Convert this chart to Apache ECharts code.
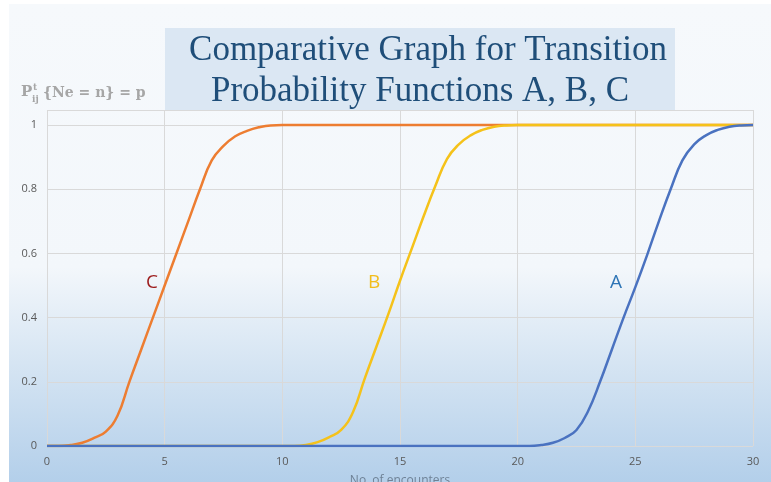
<!DOCTYPE html>
<html>
<head>
<meta charset="utf-8">
<script src="https://cdn.jsdelivr.net/npm/echarts@6/dist/echarts.min.js"></script>
<style>
  html, body { margin: 0; padding: 0; background: #fff; }
  #chart { width: 771px; height: 482px; }
</style>
</head>
<body>
<div id="chart"></div>
<script>
// curve C (orange)
var c_x = [0, 0.5, 1, 1.5, 2, 2.5, 3, 3.5, 4, 4.5, 5, 5.5, 6, 6.5, 7, 7.5, 8, 8.5, 9, 9.5, 10, 20, 30];
var c_y = [0, 0, 0.003, 0.01, 0.025, 0.045, 0.095, 0.2, 0.3, 0.4, 0.5, 0.6, 0.7, 0.8, 0.89, 0.935, 0.965, 0.982, 0.993, 0.999, 1, 1, 1];

// curve B (yellow)
var b_x = [0, 10, 10.5, 11, 11.5, 12, 12.5, 13, 13.5, 14, 14.5, 15, 15.5, 16, 16.5, 17, 17.5, 18, 18.5, 19, 19.5, 20, 30];
var b_y = [0, 0, 0, 0.003, 0.012, 0.028, 0.05, 0.105, 0.21, 0.31, 0.41, 0.515, 0.615, 0.715, 0.81, 0.895, 0.94, 0.968, 0.985, 0.995, 0.999, 1, 1];

// curve A (blue)
var a_x = [0, 10, 20, 20.5, 21, 21.5, 22, 22.5, 23, 23.5, 24, 24.5, 25, 25.5, 26, 26.5, 27, 27.5, 28, 28.5, 29, 29.5, 30];
var a_y = [0, 0, 0, 0, 0.003, 0.01, 0.025, 0.05, 0.11, 0.2, 0.3, 0.4, 0.495, 0.595, 0.7, 0.8, 0.89, 0.94, 0.968, 0.985, 0.995, 0.999, 1];

var x_ticks = [0, 5, 10, 15, 20, 25, 30];
var y_ticks = [0, 0.2, 0.4, 0.6, 0.8, 1];

// curve name labels [x, y]
var label_c = [4.46, 0.51];
var label_b = [13.9, 0.51];
var label_a = [24.18, 0.51];

var colors = {
   c: "#ed7d31",
   b: "#f5c21a",
   a: "#4a72c0",
};

var pairs = (xs, ys) => xs.map((x, i) => [x, ys[i]]);

var make_series = (name, xs, ys, color, pos, labelColor) => {
   return {
      name: name,
      type: "line",
      data: pairs(xs, ys),
      smooth: 0.45,
      showSymbol: false,
      symbol: "none",
      lineStyle: { color: color, width: 2.5 },
      markPoint: {
         symbol: "circle",
         symbolSize: 1,
         itemStyle: { color: "transparent" },
         label: {
            show: true,
            formatter: name,
            color: labelColor,
            fontSize: 19,
            fontFamily: "Open Sans",
         },
         data: [{ coord: pos }],
      },
      z: 2,
   };
};

var option = {
   animation: false,
   graphic: [
      {
         type: "rect",
         z: -10,
         shape: { x: 9, y: 4, width: 762, height: 478 },
         style: {
            fill: new echarts.graphic.LinearGradient(0, 0, 0, 1, [
               { offset: 0, color: "#f6f9fc" },
               { offset: 0.55, color: "#f3f7fb" },
               { offset: 0.75, color: "#d6e5f3" },
               { offset: 1, color: "#b3cfea" },
            ]),
         },
      },
      {
         type: "rect",
         z: -5,
         shape: { x: 165, y: 28, width: 510, height: 83 },
         style: { fill: "#dbe7f3" },
      },
      {
         type: "text",
         x: 428,
         y: 33,
         style: {
            text: "Comparative Graph for Transition",
            font: "35px 'Liberation Serif'",
            fill: "#1f4e79",
            align: "center",
         },
      },
      {
         type: "text",
         x: 420,
         y: 74,
         style: {
            text: "Probability Functions A, B, C",
            font: "35px 'Liberation Serif'",
            fill: "#1f4e79",
            align: "center",
         },
      },
      {
         type: "text", left: 21, top: 85,
         style: { text: "P", font: "bold 15px 'DejaVu Serif'", fill: "#a6a6a6" },
      },
      {
         type: "text", left: 33, top: 83,
         style: { text: "t", font: "bold 9px 'DejaVu Serif'", fill: "#a6a6a6" },
      },
      {
         type: "text", left: 32, top: 95,
         style: { text: "ij", font: "bold 9px 'DejaVu Serif'", fill: "#a6a6a6" },
      },
      {
         type: "text", left: 43, top: 86,
         style: { text: "{Ne = n} = p", font: "bold 14px 'DejaVu Serif'", fill: "#a6a6a6" },
      },
   ],
   grid: { left: 47, right: 18, top: 110, bottom: 36, containLabel: false, outerBoundsMode: "none" },
   xAxis: {
      type: "value",
      min: x_ticks[0],
      max: x_ticks[x_ticks.length - 1],
      interval: 5,
      name: "No. of encounters",
      nameLocation: "middle",
      nameGap: 29,
      nameTextStyle: { color: "#6f8296", fontSize: 12, fontFamily: "Open Sans" },
      axisLine: { show: false },
      axisTick: { show: false },
      axisLabel: { color: "#595959", fontSize: 11, fontFamily: "Open Sans", margin: 10 },
      splitLine: { show: true, lineStyle: { color: "#d9d9d9", width: 1 } },
   },
   yAxis: {
      type: "value",
      min: y_ticks[0],
      max: 1.047,
      interval: 0.2,
      axisLine: { show: false },
      axisTick: { show: false },
      axisLabel: {
         color: "#595959",
         fontSize: 11,
         fontFamily: "Open Sans",
         margin: 10,
         formatter: (v) => (v > 1.001 ? "" : String(+v.toFixed(1))),
      },
      splitLine: { show: true, lineStyle: { color: "#d9d9d9", width: 1 } },
   },
   series: [
      make_series("C", c_x, c_y, colors.c, label_c, "#9c1c1c"),
      make_series("B", b_x, b_y, colors.b, label_b, "#f2bd1c"),
      make_series("A", a_x, a_y, colors.a, label_a, "#2e75b6"),
   ],
};

var myChart = echarts.init(document.querySelector("#chart"));
myChart.setOption(option);
</script>
</body>
</html>
